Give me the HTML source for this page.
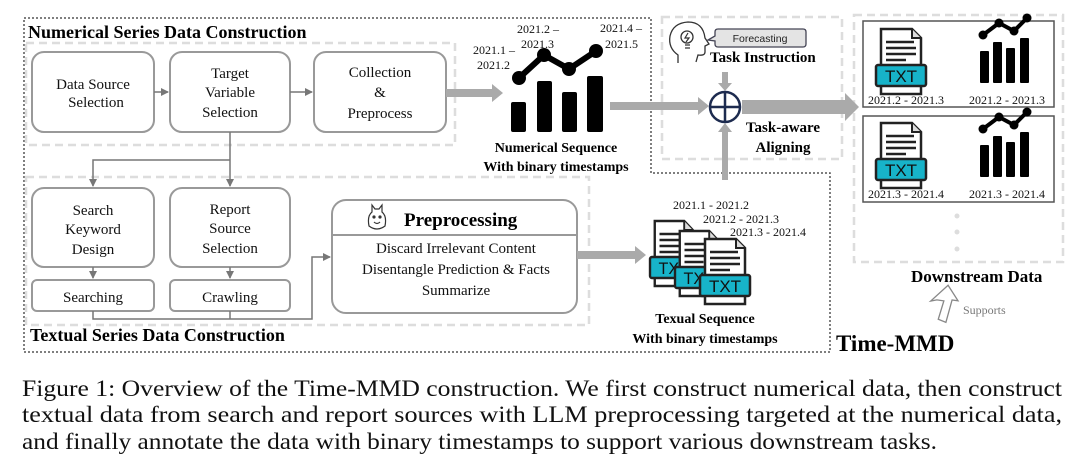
<!DOCTYPE html>
<html><head><meta charset="utf-8"><style>
html,body{margin:0;padding:0;background:#fff;width:1080px;height:465px;overflow:hidden}
svg{display:block}
.s{font-family:"Liberation Serif",serif}
.b{font-weight:bold}
</style></head><body>
<svg width="1080" height="465" viewBox="0 0 1080 465" xmlns="http://www.w3.org/2000/svg">
<defs>
<marker id="ah" markerWidth="8" markerHeight="8" refX="7" refY="4" orient="auto" markerUnits="userSpaceOnUse"><path d="M0,0 L8,4 L0,8 z" fill="#777"/></marker>
<g id="doc">
<path d="M5,1 H36 L45,10 V66 H5 z" fill="#fff" stroke="#222" stroke-width="2.5"/>
<path d="M36,1 V10 H45" fill="#ddd" stroke="#222" stroke-width="2"/>
<path d="M10,14 H38 M10,20 H40 M10,26 H40 M10,32 H30" stroke="#222" stroke-width="2.5"/>
<rect x="0" y="37" width="50" height="21" rx="2" fill="#17b3c9" stroke="#222" stroke-width="2.5"/>
<text x="25" y="54" text-anchor="middle" font-family="Liberation Sans,sans-serif" font-size="17" fill="#111">TXT</text>
</g>
<g id="chart">
<rect x="0" y="17" width="9" height="32" rx="1" fill="#000"/>
<rect x="13" y="8" width="9" height="41" rx="1" fill="#000"/>
<rect x="26" y="14" width="9" height="35" rx="1" fill="#000"/>
<rect x="40" y="4" width="9" height="45" rx="1" fill="#000"/>
<polyline points="3,1 19,-11 34,-3 47,-16" fill="none" stroke="#000" stroke-width="4"/>
<circle cx="3" cy="1" r="4.5"/><circle cx="19" cy="-11" r="4.5"/><circle cx="34" cy="-3" r="4.5"/><circle cx="47" cy="-16" r="4.5"/>
</g>
</defs>

<path d="M24,18 H651 V173 H830 V352 H24 Z" fill="none" stroke="#555" stroke-width="1.5" stroke-dasharray="2,2"/>
<rect x="26" y="43" width="429" height="102" fill="none" stroke="#ddd" stroke-width="2.5" stroke-dasharray="8,5"/>
<rect x="26" y="177" width="563" height="148" fill="none" stroke="#ddd" stroke-width="2.5" stroke-dasharray="8,5"/>
<rect x="662" y="17" width="180" height="142" fill="none" stroke="#ddd" stroke-width="2.5" stroke-dasharray="8,5"/>
<rect x="854" y="15" width="209" height="247" fill="none" stroke="#ddd" stroke-width="2.5" stroke-dasharray="8,5"/>

<text class="s b" x="28" y="38" font-size="18">Numerical Series Data Construction</text>
<text class="s b" x="30" y="341" font-size="18">Textual Series Data Construction</text>

<g fill="#fff" stroke="#999" stroke-width="2">
<rect x="32" y="52" width="122" height="80" rx="12"/>
<rect x="170" y="52" width="120" height="80" rx="12"/>
<rect x="314" y="52" width="132" height="80" rx="12"/>
<rect x="32" y="188" width="122" height="79" rx="12"/>
<rect x="170" y="188" width="120" height="79" rx="12"/>
<rect x="32" y="280" width="122" height="31" rx="5"/>
<rect x="170" y="280" width="120" height="31" rx="5"/>
<rect x="332" y="200" width="245" height="113" rx="14"/>
</g>
<line x1="332" y1="235" x2="577" y2="235" stroke="#999" stroke-width="2"/>
<g class="s" font-size="15" text-anchor="middle" fill="#111">
<text x="93" y="89">Data Source</text><text x="96" y="107">Selection</text>
<text x="230" y="78">Target</text><text x="230" y="97">Variable</text><text x="230" y="117">Selection</text>
<text x="380" y="77">Collection</text><text x="380" y="97">&amp;</text><text x="380" y="118">Preprocess</text>
<text x="93" y="215">Search</text><text x="93" y="234">Keyword</text><text x="93" y="254">Design</text>
<text x="230" y="214">Report</text><text x="230" y="233">Source</text><text x="230" y="253">Selection</text>
<text x="93" y="302">Searching</text><text x="230" y="302">Crawling</text>
<text x="456" y="253">Discard Irrelevant Content</text>
<text x="456" y="274">Disentangle Prediction &amp; Facts</text>
<text x="456" y="295">Summarize</text>
</g>
<text class="s b" x="404" y="226" font-size="19">Preprocessing</text>
<g fill="none" stroke="#333" stroke-width="1.2">
<path d="M372,212 L372,205 L375,209 L379,209 L382,205 L382,212 Q387,216 385,226 Q377,232 369,226 Q367,216 372,212 z"/>
<circle cx="374" cy="217" r="1" fill="#333"/><circle cx="380" cy="217" r="1" fill="#333"/>
<path d="M374,222 Q377,225 380,222"/>
</g>

<g stroke="#777" stroke-width="1.5" fill="none">
<line x1="154" y1="92" x2="168" y2="92" marker-end="url(#ah)"/>
<line x1="290" y1="92" x2="312" y2="92" marker-end="url(#ah)"/>
<line x1="230" y1="132" x2="230" y2="186" marker-end="url(#ah)"/>
<polyline points="230,160 93,160 93,186" marker-end="url(#ah)"/>
<line x1="93" y1="267" x2="93" y2="278" marker-end="url(#ah)"/>
<line x1="230" y1="267" x2="230" y2="278" marker-end="url(#ah)"/>
<polyline points="93,311 93,319 312,319 312,257 330,257" marker-end="url(#ah)"/>
<line x1="230" y1="311" x2="230" y2="319"/>
</g>

<g fill="#aaa">
<path d="M446,89 H492 V84 L503,93 L492,102 V97 H446 z"/>
<path d="M577,251 H635 V246 L646,255 L635,264 V259 H577 z"/>
<path d="M610,102 H698 V97 L709,106 L698,115 V110 H610 z"/>
<path d="M722,72 H728 V83 H732 L725,91 L718,83 H722 z"/>
<path d="M722,180 H728 V132 H732 L725,123 L718,132 H722 z"/>
<path d="M742,100 H845 V93 L859,107 L845,121 V114 H742 z"/>
</g>
<circle cx="725" cy="107" r="15" fill="#fff" stroke="#1d2b4f" stroke-width="2.5"/>
<path d="M710,107 H740 M725,92 V122" stroke="#1d2b4f" stroke-width="2.5"/>

<g transform="translate(511,0)">
<rect x="0" y="102" width="15" height="30" rx="2"/>
<rect x="26" y="81" width="15" height="51" rx="2"/>
<rect x="51" y="92" width="15" height="40" rx="2"/>
<rect x="76" y="76" width="16" height="56" rx="2"/>
<polyline points="8,78 33,55 58,69 85,51" fill="none" stroke="#000" stroke-width="6"/>
<circle cx="8" cy="78" r="7"/><circle cx="33" cy="55" r="7"/><circle cx="58" cy="69" r="7"/><circle cx="85" cy="51" r="7"/>
</g>
<g class="s" font-size="12" fill="#111">
<text x="473" y="54">2021.1 –</text><text x="477" y="69">2021.2</text>
<text x="517" y="33">2021.2 –</text><text x="521" y="48">2021.3</text>
<text x="600" y="32">2021.4 –</text><text x="605" y="48">2021.5</text>
</g>
<text class="s b" x="556" y="152" font-size="14" text-anchor="middle">Numerical Sequence</text>
<text class="s b" x="556" y="171" font-size="14" text-anchor="middle">With binary timestamps</text>

<g fill="none" stroke="#333" stroke-width="1.3">
<path d="M678,63 V55 Q668,48 670,36 Q673,23 688,22 Q703,22 705,38 L709,44 L705,46 V52 Q705,56 698,55 L696,62"/>
<circle cx="687" cy="37" r="6"/>
<path d="M685,45 H690 M685,48 H690"/>
</g>
<path d="M688,33 L685,38 H689 L686,42" fill="none" stroke="#333" stroke-width="1.2"/>
<path d="M718,29 H803 Q806,29 806,32 V44 Q806,47 803,47 H718 Q715,47 715,44 V41 L708,40 L715,36 V32 Q715,29 718,29 z" fill="#e4e4e4" stroke="#445" stroke-width="1.3"/>
<text x="760" y="42" text-anchor="middle" font-family="Liberation Sans,sans-serif" font-size="10.5" fill="#222">Forecasting</text>
<text class="s b" x="710" y="62" font-size="15">Task Instruction</text>
<text class="s b" x="783" y="132" font-size="15" text-anchor="middle">Task-aware</text>
<text class="s b" x="783" y="152" font-size="15" text-anchor="middle">Aligning</text>

<rect x="863" y="21" width="191" height="86" fill="#fff" stroke="#555" stroke-width="1.5"/>
<rect x="863" y="116" width="191" height="86" fill="#fff" stroke="#555" stroke-width="1.5"/>
<use href="#doc" transform="translate(876,28)"/>
<use href="#doc" transform="translate(876,122)"/>
<use href="#chart" transform="translate(980,34)"/>
<use href="#chart" transform="translate(980,128)"/>
<g class="s" font-size="12" fill="#111">
<text x="868" y="104">2021.2 - 2021.3</text><text x="969" y="104">2021.2 - 2021.3</text>
<text x="868" y="198">2021.3 - 2021.4</text><text x="969" y="198">2021.3 - 2021.4</text>
</g>
<g fill="#ddd"><circle cx="957" cy="216" r="2.5"/><circle cx="957" cy="232" r="2.5"/><circle cx="957" cy="249" r="2.5"/></g>
<text class="s b" x="911" y="282" font-size="17">Downstream Data</text>
<path d="M937,301 L931,303 L946,285 L958,299 L952,299 L949,322 L941,320 L944,301 z" fill="#fff" stroke="#888" stroke-width="1.3" transform="rotate(8 945 300)"/>
<text class="s" x="963" y="314" font-size="12" fill="#777">Supports</text>
<text class="s b" x="836" y="351" font-size="23">Time-MMD</text>

<g class="s" font-size="12" fill="#111">
<text x="673" y="209">2021.1 - 2021.2</text>
<text x="703" y="223">2021.2 - 2021.3</text>
<text x="730" y="236">2021.3 - 2021.4</text>
</g>
<use href="#doc" transform="translate(650,220) scale(0.95,1)"/>
<use href="#doc" transform="translate(675,230) scale(0.95,1)"/>
<use href="#doc" transform="translate(700,238)"/>
<text class="s b" x="705" y="323" font-size="14" text-anchor="middle">Texual Sequence</text>
<text class="s b" x="705" y="343" font-size="14" text-anchor="middle">With binary timestamps</text>

<g class="s" font-size="23" fill="#111">
<text x="22" y="396" textLength="1040" lengthAdjust="spacingAndGlyphs">Figure 1: Overview of the Time-MMD construction. We first construct numerical data, then construct</text>
<text x="22" y="422" textLength="1040" lengthAdjust="spacingAndGlyphs">textual data from search and report sources with LLM preprocessing targeted at the numerical data,</text>
<text x="22" y="449" textLength="915" lengthAdjust="spacingAndGlyphs">and finally annotate the data with binary timestamps to support various downstream tasks.</text>
</g>
</svg>
</body></html>
